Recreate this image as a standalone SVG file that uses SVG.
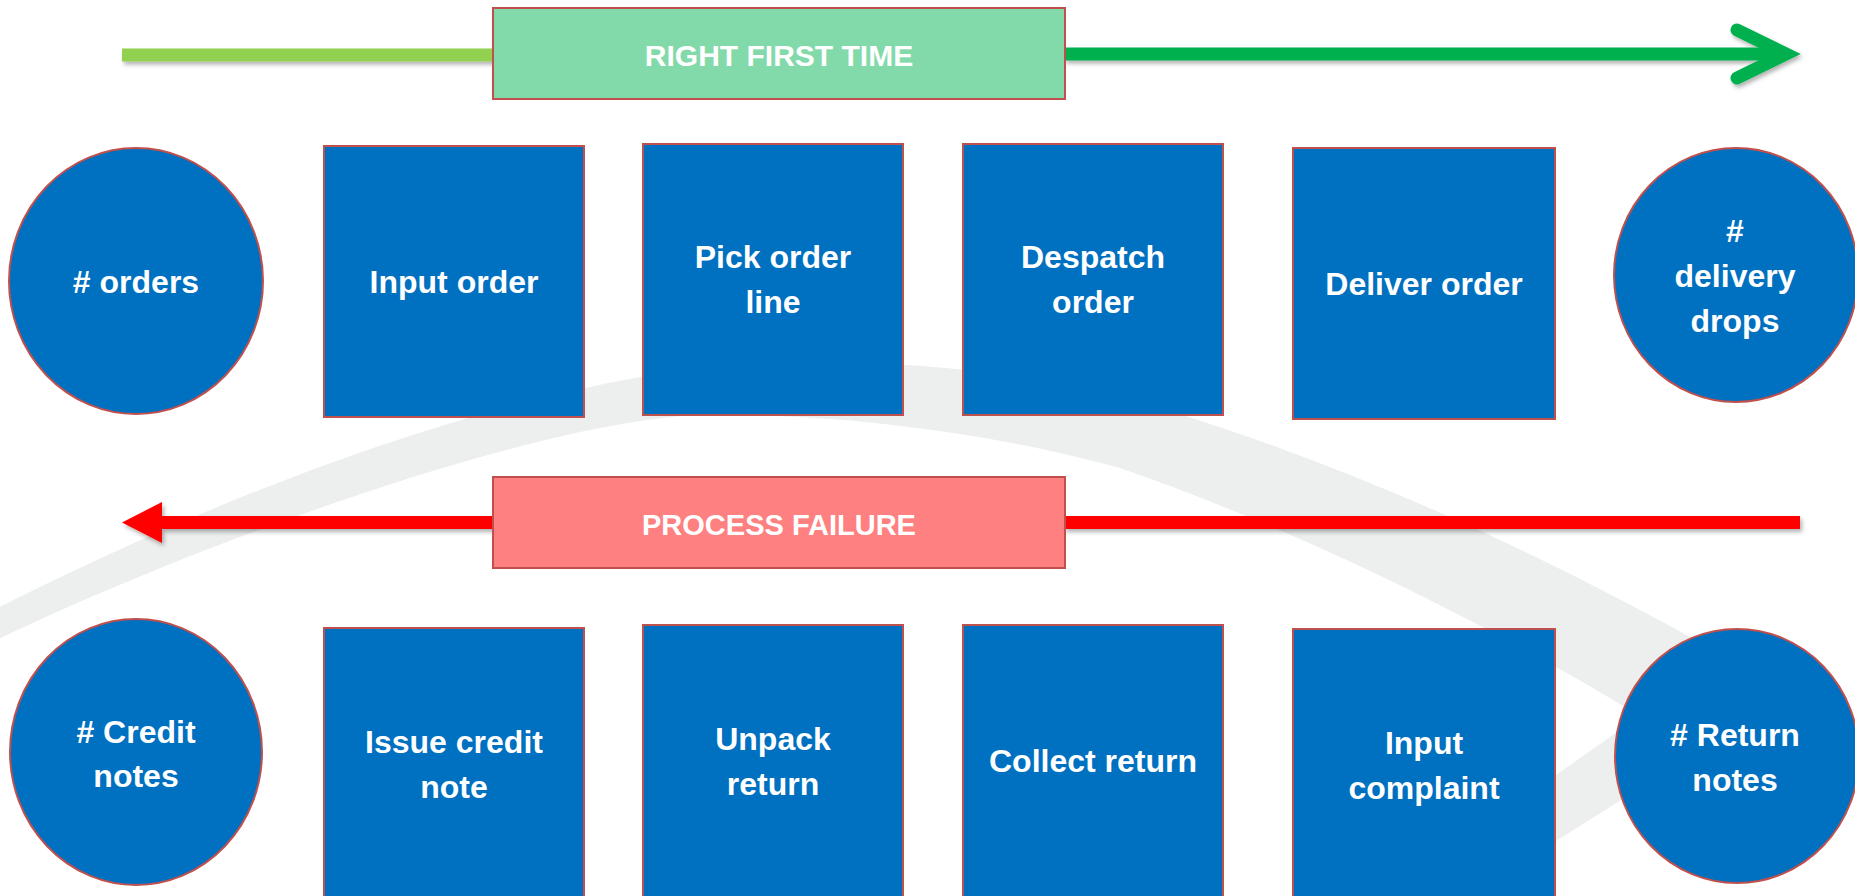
<svg xmlns="http://www.w3.org/2000/svg" width="1855" height="896" viewBox="0 0 1855 896">
<defs>
<style>
.box{fill:#0070C0;stroke:#C0504D;stroke-width:2}
.t{font-family:"Liberation Sans",Arial,sans-serif;font-weight:bold;fill:#FFFFFF;text-anchor:middle}
.n{font-size:32px}
.b1{font-size:30px}
.b2{font-size:29px}
</style>
<filter id="sh" x="-5%" y="-100%" width="110%" height="300%">
<feDropShadow dx="2" dy="3" stdDeviation="2" flood-color="#000" flood-opacity="0.3"/>
</filter>
</defs>
<rect width="1855" height="896" fill="#FFFFFF"/>
<path id="swoosh" fill="#ECEFEE" d="M -20,617 C 150,530 400,420 640,377 C 800,352 1000,360 1150,405 C 1350,465 1530,548 1710,648 L 1745,722 L 1553,843 L 1330,990 L 1280,958 L 1553,777 L 1640,716 C 1500,630 1300,530 1120,468 C 1000,435 850,413 703,415 C 550,418 200,540 -20,648 Z"/>
<g id="connectors">
<g filter="url(#sh)">
<line x1="122" y1="55" x2="494" y2="55" stroke="#92D050" stroke-width="13"/>
<line x1="1064" y1="54" x2="1784" y2="54" stroke="#00B050" stroke-width="13"/>
<polyline points="1737,30 1786,54 1737,78" fill="none" stroke="#00B050" stroke-width="13" stroke-linecap="round" stroke-linejoin="miter"/>
<line x1="160" y1="522.5" x2="494" y2="522.5" stroke="#FF0000" stroke-width="13"/>
<polygon points="122,522.5 162,502 162,543" fill="#FF0000"/>
<line x1="1064" y1="522.5" x2="1800" y2="522.5" stroke="#FF0000" stroke-width="13"/>
</g>
</g>
<g id="right-first-time">
<rect x="493" y="8" width="572" height="91" fill="#82D9A9" stroke="#C0504D" stroke-width="2"/>
<text class="t b1" x="779" y="66">RIGHT FIRST TIME</text>
</g>
<g id="process-failure">
<rect x="493" y="477" width="572" height="91" fill="#FF8080" stroke="#C0504D" stroke-width="2"/>
<text class="t b2" x="779" y="535">PROCESS FAILURE</text>
</g>
<g id="orders">
<ellipse class="box" cx="136" cy="281" rx="127" ry="133"/>
<text class="t n" x="136" y="293"># orders</text>
</g>
<g id="input-order">
<rect class="box" x="324" y="146" width="260" height="271"/>
<text class="t n" x="454" y="293">Input order</text>
</g>
<g id="pick-order-line">
<rect class="box" x="643" y="144" width="260" height="271"/>
<text class="t n" x="773" y="268">Pick order<tspan x="773" y="313">line</tspan></text>
</g>
<g id="despatch-order">
<rect class="box" x="963" y="144" width="260" height="271"/>
<text class="t n" x="1093" y="268">Despatch<tspan x="1093" y="313">order</tspan></text>
</g>
<g id="deliver-order">
<rect class="box" x="1293" y="148" width="262" height="271"/>
<text class="t n" x="1424" y="295">Deliver order</text>
</g>
<g id="delivery-drops">
<ellipse class="box" cx="1736" cy="275" rx="122" ry="127"/>
<text class="t n" x="1735" y="242">#<tspan x="1735" y="287">delivery</tspan><tspan x="1735" y="332">drops</tspan></text>
</g>
<g id="credit-notes">
<ellipse class="box" cx="136" cy="752" rx="126" ry="133"/>
<text class="t n" x="136" y="743"># Credit<tspan x="136" y="787">notes</tspan></text>
</g>
<g id="issue-credit-note">
<rect class="box" x="324" y="628" width="260" height="290"/>
<text class="t n" x="454" y="753">Issue credit<tspan x="454" y="798">note</tspan></text>
</g>
<g id="unpack-return">
<rect class="box" x="643" y="625" width="260" height="290"/>
<text class="t n" x="773" y="750">Unpack<tspan x="773" y="795">return</tspan></text>
</g>
<g id="collect-return">
<rect class="box" x="963" y="625" width="260" height="290"/>
<text class="t n" x="1093" y="772">Collect return</text>
</g>
<g id="input-complaint">
<rect class="box" x="1293" y="629" width="262" height="290"/>
<text class="t n" x="1424" y="754">Input<tspan x="1424" y="799">complaint</tspan></text>
</g>
<g id="return-notes">
<ellipse class="box" cx="1737" cy="756" rx="122" ry="127"/>
<text class="t n" x="1735" y="746"># Return<tspan x="1735" y="791">notes</tspan></text>
</g>
</svg>
